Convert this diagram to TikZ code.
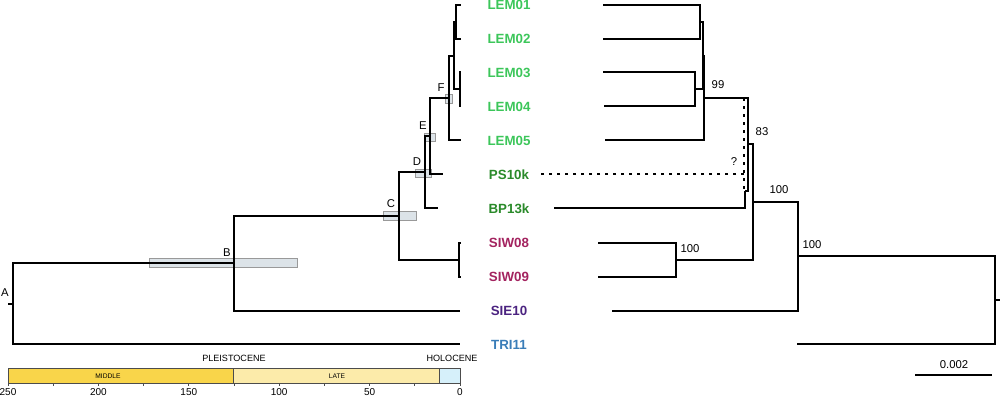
\documentclass[tikz,border=0pt]{standalone}
\usepackage{fontspec}
\setmainfont{Liberation Sans}
\definecolor{lemgreen}{HTML}{3CC65A}
\definecolor{oldgreen}{HTML}{2A8A2A}
\definecolor{siwred}{HTML}{A3235F}
\definecolor{siepurple}{HTML}{4B2380}
\definecolor{triblue}{HTML}{3A7DB8}
\definecolor{midyellow}{HTML}{F9D54A}
\definecolor{lateyellow}{HTML}{FCEBAA}
\definecolor{holoblue}{HTML}{D6F0FA}
\definecolor{hpdfill}{HTML}{DCE3E8}

\begin{document}
\begin{tikzpicture}[x=0.75pt,y=-0.75pt,
    branch/.style={line width=1.4pt},
    tip/.style={font=\fontsize{10}{12}\selectfont\bfseries,inner sep=0pt},
    lab/.style={font=\fontsize{8.5}{10}\selectfont,inner sep=0pt},
    epoch/.style={font=\fontsize{6.8}{8}\selectfont,inner sep=0pt},
    stage/.style={font=\fontsize{5}{6}\selectfont,inner sep=0pt},
    hpd/.style={draw=gray!80,fill=hpdfill,line width=0.5pt}]

    \useasboundingbox (0,0) rectangle (1000,396);

    % Sample labels
    \node[tip,text=lemgreen] (lem01) at (509,5) {LEM01};
    \node[tip,text=lemgreen] (lem02) at (509,39) {LEM02};
    \node[tip,text=lemgreen] (lem03) at (509,73) {LEM03};
    \node[tip,text=lemgreen] (lem04) at (509,107) {LEM04};
    \node[tip,text=lemgreen] (lem05) at (509,141) {LEM05};
    \node[tip,text=oldgreen] (ps10k) at (509,175) {PS10k};
    \node[tip,text=oldgreen] (bp13k) at (509,209) {BP13k};
    \node[tip,text=siwred] (siw08) at (509,243) {SIW08};
    \node[tip,text=siwred] (siw09) at (509,277) {SIW09};
    \node[tip,text=siepurple] (sie10) at (509,311) {SIE10};
    \node[tip,text=triblue] (tri11) at (509,345) {TRI11};

    % Left tree: HPD bars
    \draw[hpd] (149,258) rectangle (297,267);
    \draw[hpd] (383,211) rectangle (416,220);
    \draw[hpd] (415,169) rectangle (431,177);
    \draw[hpd] (424,133) rectangle (435,141);
    \draw[hpd] (445,94) rectangle (452,103);

    % Left tree: nodes
    \coordinate (root) at (8,304);
    \coordinate (a) at (13,304);
    \coordinate (b) at (234,263);
    \coordinate (c) at (399,216);
    \coordinate (d) at (425,172);
    \coordinate (e) at (430,136);
    \coordinate (f) at (449,98);
    \coordinate (g) at (454,56);
    \coordinate (h12) at (456,22);
    \coordinate (h34) at (460,89);
    \coordinate (siw) at (459,260);
    \coordinate (t1) at (461,5);
    \coordinate (t2) at (461,39);
    \coordinate (t3) at (461,72);
    \coordinate (t4) at (461,106);
    \coordinate (t5) at (461,140);
    \coordinate (t6) at (443,174);
    \coordinate (t7) at (438,208);
    \coordinate (t8) at (461,243);
    \coordinate (t9) at (461,277);
    \coordinate (t10) at (460,311);
    \coordinate (t11) at (460,344);

    % Left tree: edges
    \draw[branch] (root) -- (a);
    \draw[branch] (a) |- (b);
    \draw[branch] (a) |- (t11);
    \draw[branch] (b) |- (c);
    \draw[branch] (b) |- (t10);
    \draw[branch] (c) |- (d);
    \draw[branch] (c) |- (siw);
    \draw[branch] (siw) |- (t8);
    \draw[branch] (siw) |- (t9);
    \draw[branch] (d) |- (e);
    \draw[branch] (d) |- (t7);
    \draw[branch] (e) |- (f);
    \draw[branch] (e) |- (t6);
    \draw[branch] (f) |- (g);
    \draw[branch] (f) |- (t5);
    \draw[branch] (g) |- (h12);
    \draw[branch] (g) |- (h34);
    \draw[branch] (h12) |- (t1);
    \draw[branch] (h12) |- (t2);
    \draw[branch] (h34) |- (t3);
    \draw[branch] (h34) |- (t4);

    % Left tree: node letters
    \node[lab] (la) at (5,293) {A};
    \node[lab] (lb) at (227,253) {B};
    \node[lab] (lc) at (391,204) {C};
    \node[lab] (ld) at (417,162) {D};
    \node[lab] (le) at (423,126) {E};
    \node[lab] (lf) at (441,88) {F};

    % Time scale
    \draw[gray!60!black,line width=0.6pt,fill=midyellow] (8,368) rectangle (233,383);
    \draw[gray!60!black,line width=0.6pt,fill=lateyellow] (233,368) rectangle (439,383);
    \draw[gray!60!black,line width=0.6pt,fill=holoblue] (439,368) rectangle (460,383);
    \node[stage] (middle) at (108,376) {MIDDLE};
    \node[stage] (late) at (337,376) {LATE};
    \node[epoch] (pleist) at (234,358) {PLEISTOCENE};
    \node[epoch] (holo) at (452,358) {HOLOCENE};
    \foreach \t in {0,25,...,250}
        \draw[gray!60!black,line width=0.6pt] ({460-1.808*\t},383) -- ++(0,3);
    \foreach \t in {0,50,...,250}
        \node[font=\fontsize{7.5}{9}\selectfont,inner sep=0pt] (tk\t) at ({460-1.808*\t},392) {\t};

    % Right tree: nodes
    \coordinate (rroot) at (1000,300);
    \coordinate (r) at (995,300);
    \coordinate (r100a) at (798,256);
    \coordinate (r100b) at (753,202);
    \coordinate (r83) at (748,144);
    \coordinate (rbp) at (745,191);
    \coordinate (r99) at (704,98);
    \coordinate (r14) at (703,56);
    \coordinate (r12) at (700,22);
    \coordinate (r34) at (695,89);
    \coordinate (rsiw) at (676,260);
    \coordinate (u1) at (603,5);
    \coordinate (u2) at (603,39);
    \coordinate (u3) at (603,72);
    \coordinate (u4) at (604,106);
    \coordinate (u5) at (605,140);
    \coordinate (u6) at (540,174);
    \coordinate (u7) at (554,208);
    \coordinate (u8) at (598,243);
    \coordinate (u9) at (598,277);
    \coordinate (u10) at (612,311);
    \coordinate (u11) at (797,344);
    \coordinate (qtop) at (744,98);
    \coordinate (qmid) at (744,174);
    \coordinate (qbot) at (744,191);

    % Right tree: edges
    \draw[branch] (rroot) -- (r);
    \draw[branch] (r) |- (r100a);
    \draw[branch] (r) |- (u11);
    \draw[branch] (r100a) |- (r100b);
    \draw[branch] (r100a) |- (u10);
    \draw[branch] (r100b) |- (r83);
    \draw[branch] (r100b) |- (rsiw);
    \draw[branch] (rsiw) |- (u8);
    \draw[branch] (rsiw) |- (u9);
    \draw[branch] (r83) |- (r99);
    \draw[branch] (r83) |- (rbp);
    \draw[branch] (rbp) |- (u7);
    \draw[branch] (r99) |- (r14);
    \draw[branch] (r99) |- (u5);
    \draw[branch] (r14) |- (r12);
    \draw[branch] (r14) |- (r34);
    \draw[branch] (r12) |- (u1);
    \draw[branch] (r12) |- (u2);
    \draw[branch] (r34) |- (u3);
    \draw[branch] (r34) |- (u4);
    \draw[line width=1.4pt,dash pattern=on 2pt off 4pt] (qtop) -- (qbot);
    \draw[line width=1.4pt,dash pattern=on 2pt off 4pt] (qmid) -- (u6);

    % Right tree: support values
    \node[lab] (s99) at (718,85) {99};
    \node[lab] (s83) at (762,132) {83};
    \node[lab] (s100b) at (779,190) {100};
    \node[lab] (s100s) at (690,249) {100};
    \node[lab] (s100a) at (812,245) {100};
    \node[lab] (q) at (734,162) {?};

    % Scale bar
    \coordinate (sbl) at (915,375);
    \coordinate (sbr) at (992,375);
    \draw[line width=0.9pt] (sbl) -- (sbr);
    \node[lab] (sblab) at (954,365) {0.002};

\end{tikzpicture}
\end{document}
